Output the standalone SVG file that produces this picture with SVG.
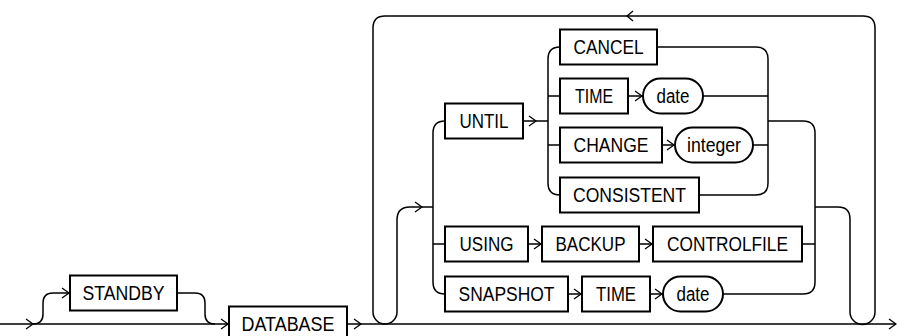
<svg xmlns="http://www.w3.org/2000/svg" width="897" height="336" viewBox="0 0 897 336">
<style>
.box{fill:#fff;stroke:#000;stroke-width:2}
.ln{fill:none;stroke:#000;stroke-width:1.5}
.ar{fill:none;stroke:#000;stroke-width:1.3}
text{font-family:"Liberation Sans",Arial,Helvetica,sans-serif;font-size:20px;fill:#000}
</style>
<rect width="897" height="336" fill="#fff"/>
<g id="connectors">
<path class="ln" d="M0,324 H229 M347,324 H896"/>
<path class="ln" d="M33,324 Q43,324 43,314 V303 Q43,293 53,293 H70"/>
<path class="ln" d="M177,293 H195 Q205,293 205,303 V314 Q205,324 215,324"/>
<path class="ln" d="M815,207 H838 Q850,207 850,219 V312 A12.5,12.5 0 0 0 875,312 V28 Q875,16 863,16 H385 Q373,16 373,28 V312 A12,12 0 0 0 397,312 V220 Q397,207 410,207 H433"/>
<path class="ln" d="M445,121 Q433,121 433,133 V282 Q433,294 445,294 M433,244 H445"/>
<path class="ln" d="M523,121 H548 M560,47 Q548,47 548,59 V183 Q548,195 560,195 M548,96 H560 M548,145 H560"/>
<path class="ln" d="M657,47 H756 Q768,47 768,59 V183 Q768,195 756,195 H699 M703,96 H768 M753,145 H768"/>
<path class="ln" d="M768,121 H803 Q815,121 815,133 V282 Q815,294 803,294 H723 M802,244 H815"/>
<path class="ln" d="M628,96 H643 M662,145 H675 M528,244 H542 M639,244 H653 M568,294 H582 M650,294 H663"/>
<path class="ar" d="M26,319 L33,324 L26,329 M62,288 L69,293 L62,298 M221,319 L228,324 L221,329 M354,319 L361,324 L354,329 M415,202 L422,207 L415,212 M529,116 L536,121 L529,126 M635,91 L642,96 L635,101 M667,140 L674,145 L667,150 M534,239 L541,244 L534,249 M645,239 L652,244 L645,249 M574,289 L581,294 L574,299 M655,289 L662,294 L655,299 M889,319 L896,324 L889,329 M633,11 L627,16 L633,21"/>
</g>
<g id="STANDBY"><rect class="box" x="70" y="275.5" width="107" height="35"/><text x="82.5" y="300" textLength="82" lengthAdjust="spacingAndGlyphs">STANDBY</text></g>
<g id="DATABASE"><rect class="box" x="229" y="306.5" width="118" height="35"/><text x="241.5" y="331" textLength="93" lengthAdjust="spacingAndGlyphs">DATABASE</text></g>
<g id="UNTIL"><rect class="box" x="445" y="103.5" width="78" height="35"/><text x="459.5" y="128" textLength="49" lengthAdjust="spacingAndGlyphs">UNTIL</text></g>
<g id="CANCEL"><rect class="box" x="560" y="29.5" width="97" height="35"/><text x="573.5" y="54" textLength="70" lengthAdjust="spacingAndGlyphs">CANCEL</text></g>
<g id="TIME1"><rect class="box" x="560" y="78.5" width="68" height="35"/><text x="575" y="103" textLength="38" lengthAdjust="spacingAndGlyphs">TIME</text></g>
<g id="date1"><rect class="box" x="643" y="78.5" width="60" height="35" rx="17.5" ry="17.5"/><text x="656.5" y="103" textLength="33" lengthAdjust="spacingAndGlyphs">date</text></g>
<g id="CHANGE"><rect class="box" x="560" y="127.5" width="102" height="35"/><text x="573.5" y="152" textLength="75" lengthAdjust="spacingAndGlyphs">CHANGE</text></g>
<g id="integer"><rect class="box" x="675" y="127.5" width="78" height="35" rx="17.5" ry="17.5"/><text x="687" y="152" textLength="54" lengthAdjust="spacingAndGlyphs">integer</text></g>
<g id="CONSISTENT"><rect class="box" x="560" y="177.5" width="139" height="35"/><text x="573" y="202" textLength="113" lengthAdjust="spacingAndGlyphs">CONSISTENT</text></g>
<g id="USING"><rect class="box" x="445" y="226.5" width="83" height="35"/><text x="459.5" y="251" textLength="54" lengthAdjust="spacingAndGlyphs">USING</text></g>
<g id="BACKUP"><rect class="box" x="542" y="226.5" width="97" height="35"/><text x="555.5" y="251" textLength="70" lengthAdjust="spacingAndGlyphs">BACKUP</text></g>
<g id="CONTROLFILE"><rect class="box" x="653" y="226.5" width="149" height="35"/><text x="667" y="251" textLength="121" lengthAdjust="spacingAndGlyphs">CONTROLFILE</text></g>
<g id="SNAPSHOT"><rect class="box" x="445" y="276.5" width="123" height="35"/><text x="458.5" y="301" textLength="96" lengthAdjust="spacingAndGlyphs">SNAPSHOT</text></g>
<g id="TIME2"><rect class="box" x="582" y="276.5" width="68" height="35"/><text x="596" y="301" textLength="40" lengthAdjust="spacingAndGlyphs">TIME</text></g>
<g id="date2"><rect class="box" x="663" y="276.5" width="60" height="35" rx="17.5" ry="17.5"/><text x="676.5" y="301" textLength="33" lengthAdjust="spacingAndGlyphs">date</text></g>
</svg>
